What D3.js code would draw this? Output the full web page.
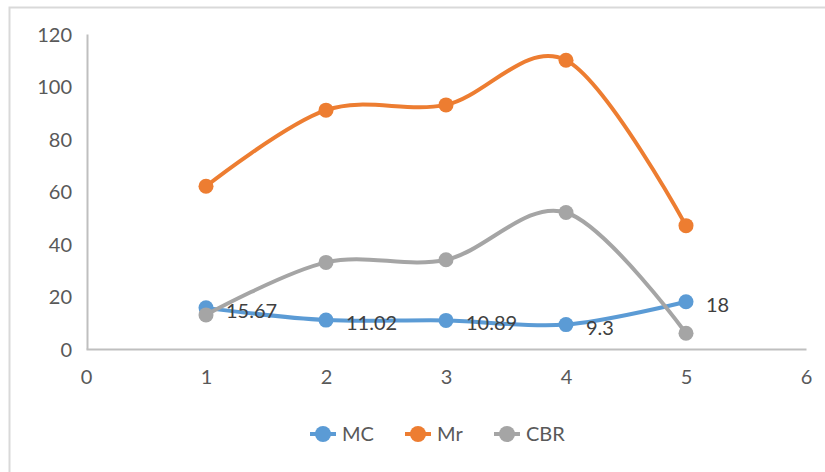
<!DOCTYPE html>
<html>
<head>
<meta charset="utf-8">
<script src="https://cdn.jsdelivr.net/npm/d3@7/dist/d3.min.js"></script>
<style>
  html, body { margin: 0; padding: 0; background: #fff; }
  svg { display: block; font-family: Lato, "Open Sans", sans-serif; }
</style>
</head>
<body>
<svg id="chart" width="825" height="472"></svg>
<script>
// Series data
const xValues = [1, 2, 3, 4, 5];
const mcValues = [15.67, 11.02, 10.89, 9.3, 18];
const mrValues = [62, 91, 93, 110, 47];
const cbrValues = [13, 33, 34, 52, 6];
const seriesNames = ["MC", "Mr", "CBR"];
const seriesColors = ["#5b9bd5", "#ed7d31", "#a5a5a5"];
const xTicks = [0, 1, 2, 3, 4, 5, 6];
const yTicks = [0, 20, 40, 60, 80, 100, 120];

const series = [
  { name: seriesNames[0], color: seriesColors[0], values: mcValues, labels: true },
  { name: seriesNames[1], color: seriesColors[1], values: mrValues, labels: false },
  { name: seriesNames[2], color: seriesColors[2], values: cbrValues, labels: false }
];

const svg = d3.select("#chart");

// Chart frame
svg.append("rect")
  .attr("x", 9.5).attr("y", 7.5)
  .attr("width", 840).attr("height", 500)
  .attr("fill", "none").attr("stroke", "#d9d9d9").attr("stroke-width", 2);

const x = d3.scaleLinear().domain([0, 6]).range([86, 806]);
const y = d3.scaleLinear().domain([0, 120]).range([349, 34]);

// Axes
const xAxis = svg.append("g").attr("transform", `translate(0,${y(0)})`)
  .call(d3.axisBottom(x).tickValues(xTicks).tickSize(0).tickPadding(21).tickFormat(d3.format("d")));
const yAxis = svg.append("g").attr("transform", `translate(${x(0) + 1},0)`)
  .call(d3.axisLeft(y).tickValues(yTicks).tickSize(0).tickPadding(15).tickFormat(d3.format("d")));

[xAxis, yAxis].forEach(g => {
  g.select(".domain").attr("stroke", "#bfbfbf").attr("stroke-width", 2);
  g.selectAll("text").attr("fill", "#595959").attr("font-size", 20)
    .attr("font-family", "Lato, 'Open Sans', sans-serif");
});
yAxis.selectAll("text").attr("dy", "0.35em");

// Smoothed lines
const line = d3.line()
  .x((d, i) => x(xValues[i]))
  .y(d => y(d))
  .curve(d3.curveCatmullRom.alpha(0));

series.forEach(s => {
  const g = svg.append("g");
  g.append("path")
    .datum(s.values)
    .attr("d", line)
    .attr("fill", "none")
    .attr("stroke", s.color)
    .attr("stroke-width", 4)
    .attr("stroke-linecap", "round");
  g.selectAll("circle").data(s.values).join("circle")
    .attr("cx", (d, i) => x(xValues[i]))
    .attr("cy", d => y(d))
    .attr("r", 7.5)
    .attr("fill", s.color);
});

// Data labels for MC
const mc = series[0];
svg.append("g").selectAll("text").data(mc.values).join("text")
  .attr("x", (d, i) => x(xValues[i]) + 20)
  .attr("y", d => y(d) + 3)
  .attr("dy", "0.35em")
  .attr("fill", "#404040")
  .attr("font-size", 20)
  .text(d => d);

// Legend
const legendItems = [
  { x: 323, tx: 342 },
  { x: 418, tx: 437 },
  { x: 507, tx: 526 }
];
const legend = svg.append("g");
series.forEach((s, i) => {
  const it = legendItems[i];
  legend.append("line")
    .attr("x1", it.x - 13).attr("x2", it.x + 13)
    .attr("y1", 434).attr("y2", 434)
    .attr("stroke", s.color).attr("stroke-width", 4);
  legend.append("circle")
    .attr("cx", it.x).attr("cy", 434).attr("r", 8)
    .attr("fill", s.color);
  legend.append("text")
    .attr("x", it.tx).attr("y", 434).attr("dy", "0.35em")
    .attr("fill", "#595959").attr("font-size", 20)
    .text(s.name);
});
</script>
</body>
</html>
